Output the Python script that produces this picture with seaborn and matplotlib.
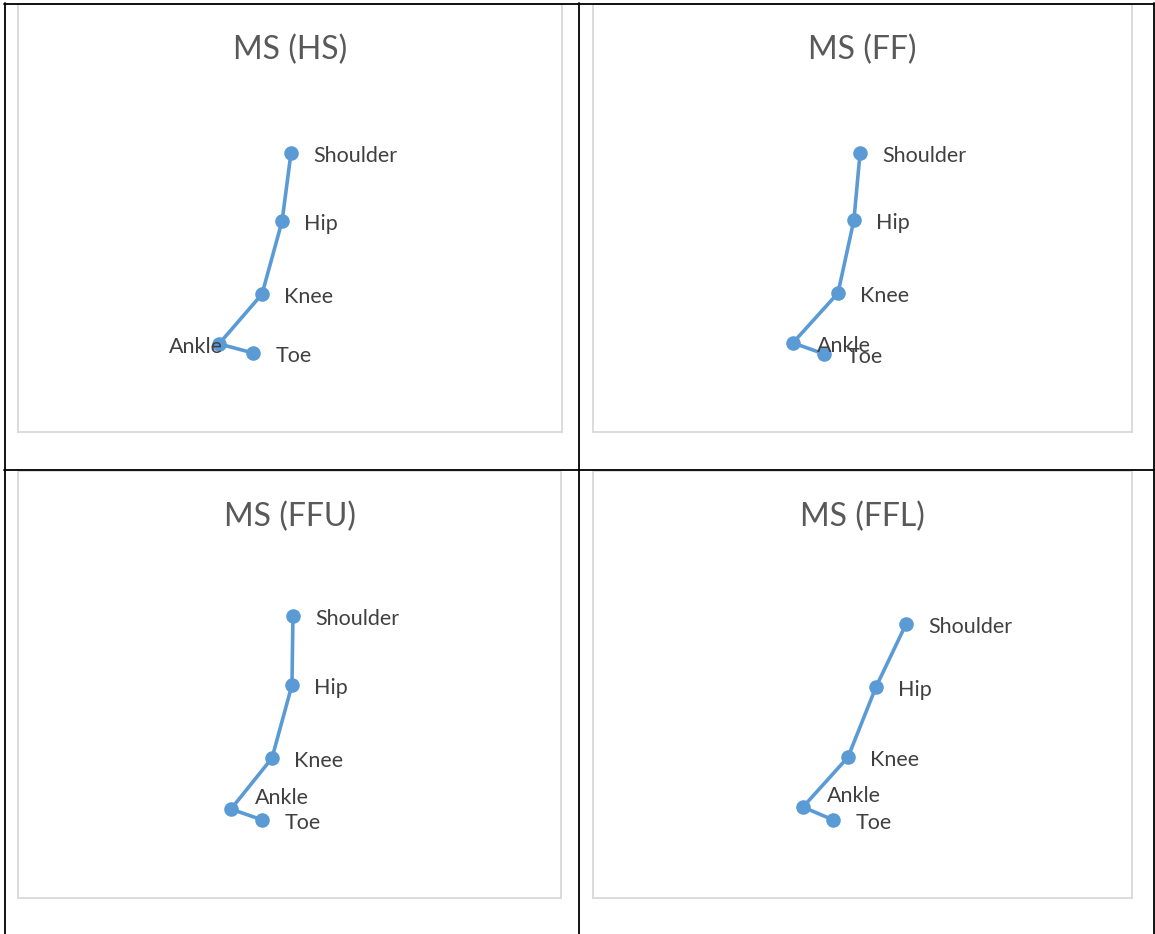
import matplotlib
matplotlib.use("Agg")
import matplotlib.pyplot as plt
from matplotlib.lines import Line2D
import seaborn as sns
import pandas as pd

sns.set_theme(style="white")
plt.rcParams['font.family'] = ['Lato', 'DejaVu Sans']

# ---- data (x, y in metres) ----
joints = ["Shoulder", "Hip", "Knee", "Ankle", "Toe"]

titles = ["MS (HS)", "MS (FF)", "MS (FFU)", "MS (FFL)"]

hs_x = [1.104, 1.068, 0.987, 0.813, 0.950]
hs_y = [1.108, 0.838, 0.548, 0.350, 0.314]

ff_x = [1.090, 1.065, 1.000, 0.816, 0.943]
ff_y = [1.108, 0.842, 0.552, 0.354, 0.310]

ffu_x = [1.114, 1.110, 1.029, 0.863, 0.989]
ffu_y = [1.123, 0.848, 0.557, 0.354, 0.311]

ffl_x = [1.278, 1.155, 1.041, 0.857, 0.980]
ffl_y = [1.091, 0.840, 0.561, 0.362, 0.311]

series = [(hs_x, hs_y), (ff_x, ff_y), (ffu_x, ffu_y), (ffl_x, ffl_y)]

# label placement per chart (offset in points, alignment) for Ankle; others go right
ankle_style = [
    dict(off=(3, -2), ha="right"),
    dict(off=(17, -2), ha="left"),
    dict(off=(17, 8), ha="left"),
    dict(off=(17, 8), ha="left"),
]

W, H = 1155, 934
fig = plt.figure(figsize=(W / 100, H / 100), dpi=100)

# chart frames in pixels: (left, top, right, bottom)
frames = [(18, 4, 562, 432), (593, 4, 1132, 432),
          (18, 471, 561, 898), (593, 471, 1132, 898)]

BLUE = "#5B9BD5"
for i, ((l, t, r, b), (xs, ys)) in enumerate(zip(frames, series)):
    ax = fig.add_axes([l / W, 1 - b / H, (r - l) / W, (b - t) / H])
    df = pd.DataFrame({"x": xs, "y": ys, "joint": joints})
    sns.lineplot(data=df, x="x", y="y", sort=False, ax=ax, color=BLUE,
                 linewidth=2.6, marker="o", markersize=10.5,
                 markeredgewidth=0, zorder=2)
    ax.set_xlim(0, 2.2)
    ax.set_ylim(0, 1.7)
    ax.set_xticks([])
    ax.set_yticks([])
    ax.set_xlabel("")
    ax.set_ylabel("")
    for s in ax.spines.values():
        s.set_color("#D9D9D9")
        s.set_linewidth(1.3)
    ax.text(0.5, 1 - 46 / (b - t), titles[i], transform=ax.transAxes,
            ha="center", va="center", fontsize=23, color="#595959",
            fontweight="normal")
    for j, name in enumerate(joints):
        if name == "Ankle":
            st = ankle_style[i]
            off, ha = st["off"], st["ha"]
        else:
            off, ha = (16, -2), "left"
        ax.annotate(name, (xs[j], ys[j]), xytext=off, textcoords="offset points",
                    ha=ha, va="center", fontsize=15.5, color="#404040", zorder=5)

# table borders
def hline(y, x0, x1):
    fig.add_artist(Line2D([x0 / W, x1 / W], [1 - y / H, 1 - y / H],
                          color="black", linewidth=1.3))

def vline(x, y0, y1):
    fig.add_artist(Line2D([x / W, x / W], [1 - y0 / H, 1 - y1 / H],
                          color="black", linewidth=1.3))

hline(3.5, 4, 1154)
hline(469.5, 4, 1154)
vline(4.5, 3, 934)
vline(579, 3, 934)
vline(1153.5, 3, 934)

fig.savefig("out.png", dpi=100, facecolor="white")
